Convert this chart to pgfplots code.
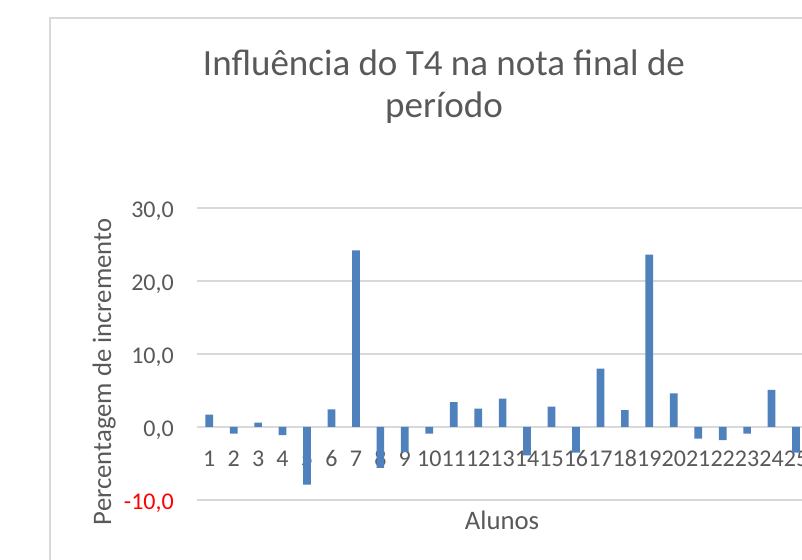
\documentclass[border=0pt]{standalone}
\usepackage{pgfplots}
\pgfplotsset{compat=1.18}
\usepackage{fontspec}
\setmainfont{Carlito}
\definecolor{bartxt}{HTML}{595959}
\definecolor{gridc}{HTML}{D9D9D9}
\definecolor{barc}{HTML}{4F81BD}
\definecolor{negred}{HTML}{FF0000}
\begin{document}
\begin{tikzpicture}
\useasboundingbox (0,0) rectangle (802pt,559pt);
\clip (0,0) rectangle (802pt,559pt);
\fill[white] (0,0) rectangle (802pt,559pt);
% chart border
\draw[gridc, line width=1.6pt] (50pt,-10pt) -- (50pt,541pt) -- (820pt,541pt);
\begin{axis}[
  at={(197pt,59pt)}, anchor=south west,
  scale only axis,
  width=611.25pt, height=292pt,
  ybar, bar width=7.7pt,
  xmin=0.5, xmax=25.5,
  ymin=-10, ymax=30,
  ytick={-10,0,10,20,30},
  yticklabels={{\textcolor{negred}{-10,0}},{0,0},{10,0},{20,0},{30,0}},
  xtick={1,...,25},
  xticklabels={1,2,3,4,5,6,7,8,9,10,11,12,13,14,15,16,17,18,19,20,21,22,23,24,25},
  major tick length=0pt,
  axis line style={draw=none},
  ymajorgrids,
  grid style={gridc, line width=1.3pt},
  clip=false,
  yticklabel style={font=\fontsize{24}{29}\selectfont, text=bartxt, anchor=base east, inner sep=0pt, xshift=-23pt, yshift=-9.3pt},
  xticklabel style={font=\fontsize{24}{29}\selectfont, text=bartxt, anchor=base, inner sep=0pt, yshift=34pt},
]
\addplot[fill=barc, draw=none] coordinates {
(1,1.7) (2,-0.9) (3,0.6) (4,-1.1) (5,-7.9) (6,2.4) (7,24.2) (8,-5.6) (9,-3.4) (10,-0.9)
(11,3.4) (12,2.5) (13,3.9) (14,-3.9) (15,2.8) (16,-3.5) (17,8.0) (18,2.3) (19,23.6) (20,4.6)
(21,-1.6) (22,-1.8) (23,-0.9) (24,5.1) (25,-3.5)
};
\end{axis}
\node[anchor=base, text=bartxt, font=\fontsize{37}{44}\selectfont, inner sep=0pt] at (444pt,483pt) {Influência do T4 na nota final de};
\node[anchor=base, text=bartxt, font=\fontsize{37}{44}\selectfont, inner sep=0pt] at (444pt,441pt) {período};
\node[anchor=base, text=bartxt, font=\fontsize{26.7}{32}\selectfont, inner sep=0pt] at (502pt,29.7pt) {Alunos};
\node[anchor=base, rotate=90, text=bartxt, font=\fontsize{26.7}{32}\selectfont, inner sep=0pt] at (111pt,187pt) {Percentagem de incremento};
\end{tikzpicture}
\end{document}
